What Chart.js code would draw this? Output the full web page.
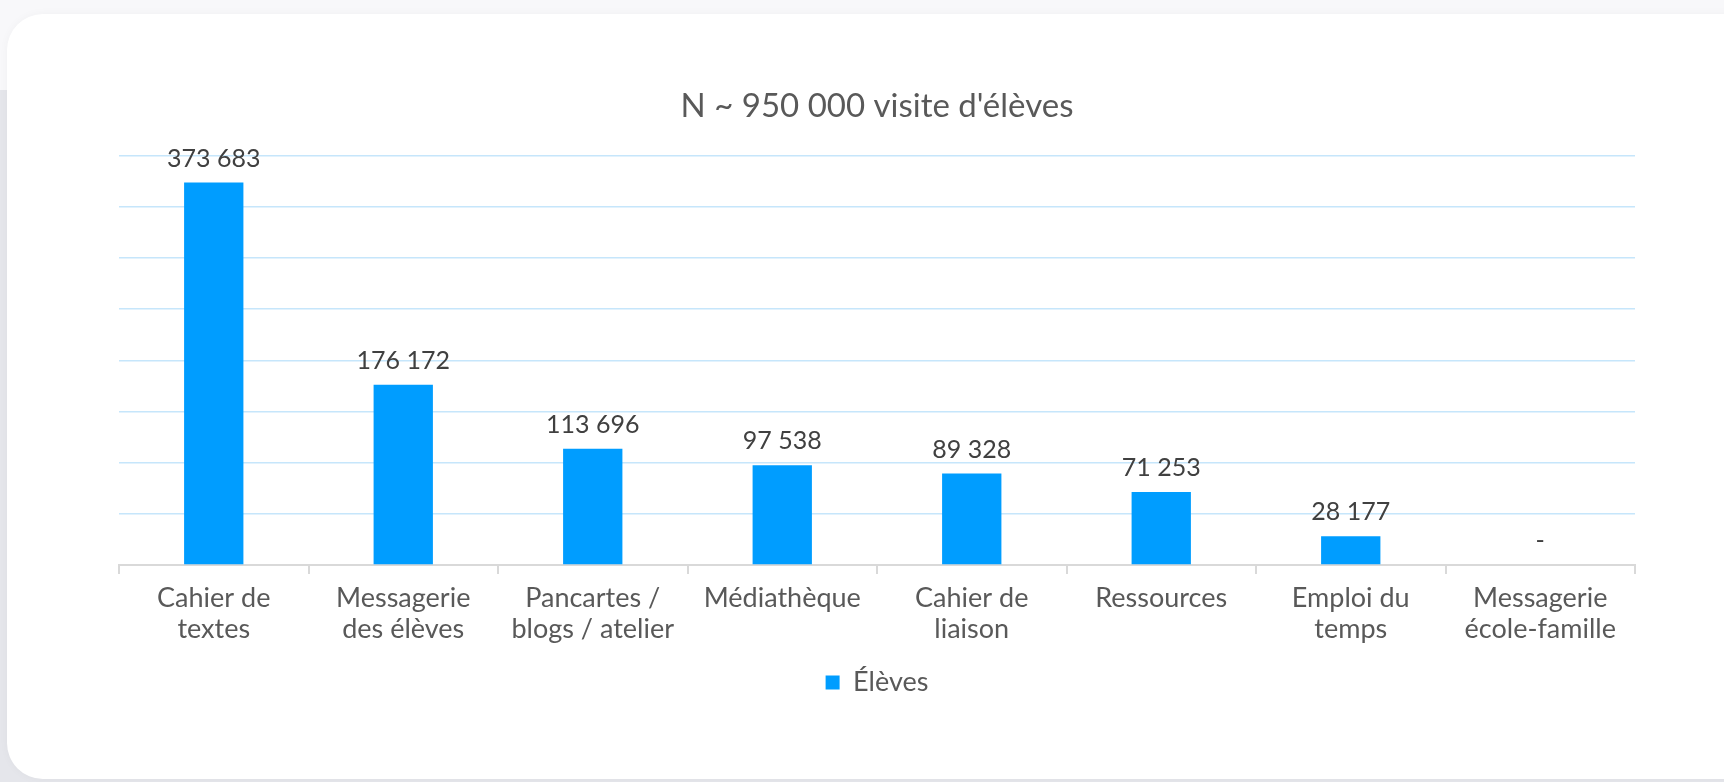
<!DOCTYPE html>
<html>
<head>
<meta charset="utf-8">
<script src="https://cdn.jsdelivr.net/npm/chart.js@4.4.1/dist/chart.umd.min.js"></script>
<style>
  html, body { margin: 0; padding: 0; width: 1724px; height: 782px; overflow: hidden; background: #e5e6eb; }
  #topband { position: absolute; left: 0; top: 0; width: 1724px; height: 90px; background: #f8f8fa; }
  #card { position: absolute; left: 7px; top: 14px; width: 1800px; height: 765px; background: #ffffff; border-radius: 36px; box-shadow: 0 0 10px rgba(0,0,0,0.035); }
  #c { position: absolute; left: 0; top: 0; }
</style>
</head>
<body>
<div id="topband"></div>
<div id="card"></div>
<canvas id="c" width="1724" height="782"></canvas>
<script>
const categories = [
  ['Cahier de', 'textes'],
  ['Messagerie', 'des élèves'],
  ['Pancartes /', 'blogs / atelier'],
  ['Médiathèque'],
  ['Cahier de', 'liaison'],
  ['Ressources'],
  ['Emploi du', 'temps'],
  ['Messagerie', 'école-famille']
];
const eleves = [373683, 176172, 113696, 97538, 89328, 71253, 28177, 0];
const seriesName = 'Élèves';
const chartTitle = "N ~ 950 000 visite d'élèves";
const yMax = 400000;
const yStep = 50000;

const FONT = 'Lato, "Open Sans", sans-serif';
const TEXT = '#595959';
const BAR = '#009dff';

function fmt(v) {
  if (v === 0) return '-';
  return String(v).replace(/\B(?=(\d{3})+(?!\d))/g, ' ');
}

const dataLabels = {
  id: 'dataLabels',
  afterDatasetsDraw(chart) {
    const ctx = chart.ctx;
    ctx.save();
    ctx.font = '25px ' + FONT;
    ctx.fillStyle = '#404040';
    ctx.textAlign = 'center';
    ctx.textBaseline = 'alphabetic';
    chart.data.datasets.forEach((ds, di) => {
      chart.getDatasetMeta(di).data.forEach((bar, i) => {
        ctx.fillText(fmt(ds.data[i]), bar.x, bar.y - 16);
      });
    });
    ctx.restore();
  }
};

new Chart(document.getElementById('c'), {
  type: 'bar',
  data: {
    labels: categories,
    datasets: [{
      label: seriesName,
      data: eleves,
      backgroundColor: BAR,
      borderWidth: 0,
      categoryPercentage: 1,
      barPercentage: 0.313
    }]
  },
  options: {
    responsive: false,
    animation: false,
    layout: { padding: { left: 119, right: 89, top: 0, bottom: 76 } },
    plugins: {
      title: {
        display: true,
        text: chartTitle,
        color: TEXT,
        font: { family: FONT, size: 33, weight: 'normal', lineHeight: 1.2 },
        padding: { top: 87, bottom: 29 }
      },
      legend: {
        display: true,
        position: 'bottom',
        labels: {
          color: TEXT,
          font: { family: FONT, size: 27 },
          boxWidth: 14,
          boxHeight: 14,
          padding: 15
        }
      },
      tooltip: { enabled: false }
    },
    scales: {
      x: {
        offset: true,
        grid: { display: true, drawOnChartArea: false, drawTicks: true, tickLength: 9, color: '#d9d9d9', lineWidth: 2, offset: true },
        border: { display: true, color: '#d9d9d9', width: 2 },
        ticks: {
          color: TEXT,
          font: { family: FONT, size: 27, lineHeight: '31px' },
          padding: 9,
          maxRotation: 0,
          autoSkip: false
        }
      },
      y: {
        min: 0,
        max: yMax,
        ticks: { display: false, stepSize: yStep },
        grid: { color: '#c6e6fb', lineWidth: 1.5, drawTicks: false },
        border: { display: false },
        afterFit(scale) { scale.width = 0; }
      }
    }
  },
  plugins: [dataLabels]
});
</script>
</body>
</html>
